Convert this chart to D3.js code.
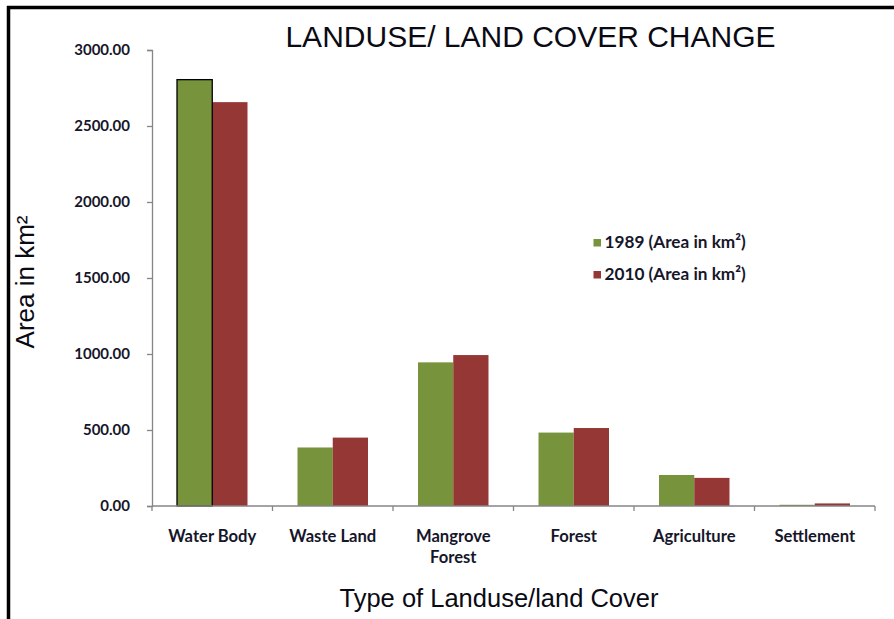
<!DOCTYPE html>
<html><head><meta charset="utf-8">
<script src="https://cdn.jsdelivr.net/npm/d3@7"></script>
<style>body{margin:0;background:#fff}svg{display:block}</style>
</head><body>
<script>
const categories = ["Water Body", "Waste Land", "Mangrove Forest", "Forest", "Agriculture", "Settlement"];
const series1989 = [2805, 385, 945, 483, 204, 8];
const series2010 = [2657, 450, 993, 513, 185, 17];
const seriesNames = ["1989 (Area in km²)", "2010 (Area in km²)"];
const yTicks = [0, 500, 1000, 1500, 2000, 2500, 3000];
const colors = ["#77933C", "#953735"];

const W = 894, H = 619;
const svg = d3.select("body").append("svg").attr("width", W).attr("height", H);
svg.append("rect").attr("width", W).attr("height", H).attr("fill", "#fff");

// frame
svg.append("line").attr("x1", 7).attr("x2", W).attr("y1", 7.5).attr("y2", 7.5).attr("stroke", "#000").attr("stroke-width", 3.5);
svg.append("line").attr("x1", 8.5).attr("x2", 8.5).attr("y1", 6).attr("y2", H).attr("stroke", "#000").attr("stroke-width", 3.5);

const x0 = 152, x1 = 875, yTop = 50, yBot = 506;
const x = d3.scaleBand().domain(categories).range([x0, x1]).paddingInner(0).paddingOuter(0);
const y = d3.scaleLinear().domain([0, 3000]).range([yBot, yTop]);
const groupW = x.bandwidth() * 0.585;
const xs = d3.scaleBand().domain([0, 1]).range([0, groupW]);

const labelFont = "Lato, 'Open Sans', sans-serif";
const textCol = "#16162a";

// bars
const data = categories.map((c, i) => ({c, v: [series1989[i], series2010[i]]}));
const g = svg.append("g");
data.forEach((d, i) => {
  d.v.forEach((v, s) => {
    const bx = x(d.c) + (x.bandwidth() - groupW) / 2 + xs(s);
    g.append("rect")
      .attr("x", bx).attr("y", y(v))
      .attr("width", xs.bandwidth()).attr("height", yBot - y(v))
      .attr("fill", colors[s]);
  });
});
// outline on water body green bar only
{
  const d = data[0];
  const bx = x(d.c) + (x.bandwidth() - groupW) / 2 + xs(0);
  g.append("rect").attr("x", bx).attr("y", y(d.v[0])).attr("width", xs.bandwidth()).attr("height", yBot - y(d.v[0]))
    .attr("fill", "none").attr("stroke", "#000").attr("stroke-width", 1.3);
}

// y axis
const yAxis = d3.axisLeft(y).tickValues(yTicks).tickFormat(d3.format(".2f")).tickSize(5).tickPadding(17);
const ya = svg.append("g").attr("transform", `translate(${x0},0)`).call(yAxis);
ya.select(".domain").attr("stroke", "#868686").attr("stroke-width", 1.3);
ya.selectAll(".tick line").attr("stroke", "#868686").attr("stroke-width", 1.3);
ya.selectAll("text").attr("font-family", labelFont).attr("font-weight", "bold").attr("font-size", "15px").attr("fill", textCol);

// x axis
const xAxis = d3.axisBottom(x).tickSize(0).tickFormat("");
const xa = svg.append("g").attr("transform", `translate(0,${yBot})`).call(xAxis);
xa.select(".domain").attr("stroke", "#868686").attr("stroke-width", 1.3).attr("d", `M${x0},0H${x1}`);
const bounds = categories.map(c => x(c)).concat([x1]);
xa.selectAll(".bnd").data(bounds).join("line").attr("class", "bnd")
  .attr("x1", d => d).attr("x2", d => d).attr("y1", 0).attr("y2", 5)
  .attr("stroke", "#868686").attr("stroke-width", 1.3);

// category labels
categories.forEach(c => {
  const words = c === "Mangrove Forest" ? ["Mangrove", "Forest"] : [c];
  const t = svg.append("text").attr("x", x(c) + x.bandwidth() / 2).attr("y", 541.5)
    .attr("text-anchor", "middle").attr("font-family", labelFont).attr("font-weight", "bold")
    .attr("font-size", "16.6px").attr("fill", textCol);
  words.forEach((w, k) => t.append("tspan").attr("x", x(c) + x.bandwidth() / 2).attr("dy", k === 0 ? 0 : 21).text(w));
});

// title
svg.append("text").attr("x", 530.5).attr("y", 46.5).attr("text-anchor", "middle")
  .attr("font-family", "'Liberation Sans', Arial, sans-serif").attr("font-size", "30px").attr("fill", "#0a0a14")
  .text("LANDUSE/ LAND COVER CHANGE");

// axis titles
svg.append("text").attr("x", 499).attr("y", 607).attr("text-anchor", "middle")
  .attr("font-family", "'Liberation Sans', Arial, sans-serif").attr("font-size", "25.5px").attr("fill", "#0a0a14")
  .text("Type of Landuse/land Cover");
svg.append("text").attr("transform", "translate(34,282) rotate(-90)").attr("text-anchor", "middle")
  .attr("font-family", "'Liberation Sans', Arial, sans-serif").attr("font-size", "26px").attr("fill", "#0a0a14")
  .text("Area in km²");

// legend
seriesNames.forEach((n, i) => {
  const ly = 242.5 + i * 32;
  svg.append("rect").attr("x", 593.5).attr("y", ly - 3.5).attr("width", 7.5).attr("height", 7.5).attr("fill", colors[i]);
  svg.append("text").attr("x", 604.5).attr("y", ly + 5).attr("font-family", labelFont).attr("font-weight", "bold")
    .attr("font-size", "17.2px").attr("fill", textCol).text(n);
});
</script>
</body></html>
